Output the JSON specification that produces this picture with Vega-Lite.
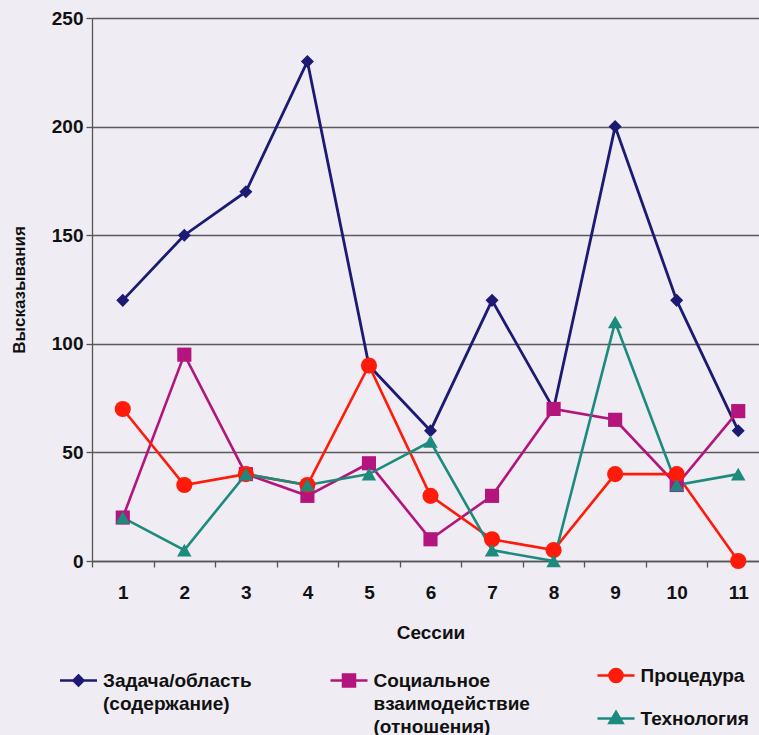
{
  "$schema": "https://vega.github.io/schema/vega-lite/v6.json",
  "autosize": {"type": "none"},
  "width": 677,
  "height": 543,
  "padding": {"left": 92, "top": 18, "right": 0, "bottom": 174},
  "background": "#efecf3",
  "config": {
    "view": {"stroke": null},
    "font": "Liberation Sans",
    "style": {"guide-label": {"lineHeight": 23}},
    "axis": {
      "labelFont": "Liberation Sans",
      "labelFontWeight": "bold",
      "labelFontSize": 19,
      "labelColor": "#111111",
      "titleFont": "Liberation Sans",
      "titleFontWeight": "bold",
      "titleFontSize": 19,
      "titleColor": "#111111",
      "domainColor": "#555555",
      "tickColor": "#555555",
      "domainWidth": 1.3,
      "tickWidth": 1.3
    },
    "legend": {
      "labelFont": "Liberation Sans",
      "labelFontWeight": "bold",
      "labelFontSize": 19,
      "labelColor": "#111111",
      "labelLimit": 0,
      "padding": 0,
      "orient": "none",
      "symbolSize": 100,
      "symbolStrokeWidth": 2.5,
      "labelOffset": 15
    }
  },
  "data": {
    "values": [
      {"session": 1, "s": "Задача/область (содержание)", "value": 120},
      {"session": 2, "s": "Задача/область (содержание)", "value": 150},
      {"session": 3, "s": "Задача/область (содержание)", "value": 170},
      {"session": 4, "s": "Задача/область (содержание)", "value": 230},
      {"session": 5, "s": "Задача/область (содержание)", "value": 90},
      {"session": 6, "s": "Задача/область (содержание)", "value": 60},
      {"session": 7, "s": "Задача/область (содержание)", "value": 120},
      {"session": 8, "s": "Задача/область (содержание)", "value": 70},
      {"session": 9, "s": "Задача/область (содержание)", "value": 200},
      {"session": 10, "s": "Задача/область (содержание)", "value": 120},
      {"session": 11, "s": "Задача/область (содержание)", "value": 60},
      {"session": 1, "s": "Социальное взаимодействие (отношения)", "value": 20},
      {"session": 2, "s": "Социальное взаимодействие (отношения)", "value": 95},
      {"session": 3, "s": "Социальное взаимодействие (отношения)", "value": 40},
      {"session": 4, "s": "Социальное взаимодействие (отношения)", "value": 30},
      {"session": 5, "s": "Социальное взаимодействие (отношения)", "value": 45},
      {"session": 6, "s": "Социальное взаимодействие (отношения)", "value": 10},
      {"session": 7, "s": "Социальное взаимодействие (отношения)", "value": 30},
      {"session": 8, "s": "Социальное взаимодействие (отношения)", "value": 70},
      {"session": 9, "s": "Социальное взаимодействие (отношения)", "value": 65},
      {"session": 10, "s": "Социальное взаимодействие (отношения)", "value": 35},
      {"session": 11, "s": "Социальное взаимодействие (отношения)", "value": 69},
      {"session": 1, "s": "Процедура", "value": 70},
      {"session": 2, "s": "Процедура", "value": 35},
      {"session": 3, "s": "Процедура", "value": 40},
      {"session": 4, "s": "Процедура", "value": 35},
      {"session": 5, "s": "Процедура", "value": 90},
      {"session": 6, "s": "Процедура", "value": 30},
      {"session": 7, "s": "Процедура", "value": 10},
      {"session": 8, "s": "Процедура", "value": 5},
      {"session": 9, "s": "Процедура", "value": 40},
      {"session": 10, "s": "Процедура", "value": 40},
      {"session": 11, "s": "Процедура", "value": 0},
      {"session": 1, "s": "Технология", "value": 20},
      {"session": 2, "s": "Технология", "value": 5},
      {"session": 3, "s": "Технология", "value": 40},
      {"session": 4, "s": "Технология", "value": 35},
      {"session": 5, "s": "Технология", "value": 40},
      {"session": 6, "s": "Технология", "value": 55},
      {"session": 7, "s": "Технология", "value": 5},
      {"session": 8, "s": "Технология", "value": 0},
      {"session": 9, "s": "Технология", "value": 110},
      {"session": 10, "s": "Технология", "value": 35},
      {"session": 11, "s": "Технология", "value": 40}
    ]
  },
  "encoding": {
    "x": {
      "field": "session",
      "type": "ordinal",
      "scale": {"type": "point", "padding": 0.5},
      "axis": {
        "labelAngle": 0,
        "tickOffset": -30.77,
        "labelOffset": 30.77,
        "tickSize": 6,
        "labelPadding": 16,
        "title": "Сессии",
        "titlePadding": 21,
        "domain": true
      }
    },
    "y": {
      "field": "value",
      "type": "quantitative",
      "scale": {"domain": [0, 250], "nice": false},
      "axis": {
        "values": [0, 50, 100, 150, 200, 250],
        "grid": true,
        "gridColor": "#5a5a5a",
        "gridWidth": 1.3,
        "gridOpacity": 1,
        "tickSize": 6,
        "labelPadding": 3,
        "title": "Высказывания",
        "titleFontSize": 17,
        "titlePadding": 23
      }
    }
  },
  "layer": [
    {
      "transform": [{"filter": "datum.s == 'Задача/область (содержание)'"}],
      "mark": {"type": "line", "strokeWidth": 2.8},
      "encoding": {
        "color": {
          "field": "s",
          "type": "nominal",
          "scale": {"range": ["#1c1a73"]},
          "legend": {
            "title": null,
            "legendX": -23,
            "legendY": 653,
            "symbolType": "M-3.7,0H3.7M0,-1L1,0L0,1L-1,0Z",
            "symbolFillColor": "#1c1a73",
            "symbolStrokeColor": "#1c1a73",
            "labelExpr": "['Задача/область', '(содержание)', '\u00a0']"
          }
        }
      }
    },
    {
      "transform": [{"filter": "datum.s == 'Социальное взаимодействие (отношения)'"}],
      "mark": {"type": "line", "strokeWidth": 2.6},
      "encoding": {
        "stroke": {
          "field": "s",
          "type": "nominal",
          "scale": {"range": ["#b3157c"]},
          "legend": {
            "title": null,
            "legendX": 247.5,
            "legendY": 653,
            "symbolType": "M-3.7,0H3.7M-1.2,-1.2H1.2V1.2H-1.2Z",
            "symbolFillColor": "#b3157c",
            "symbolStrokeColor": "#b3157c",
            "labelExpr": "['Социальное', 'взаимодействие', '(отношения)']"
          }
        }
      }
    },
    {
      "transform": [{"filter": "datum.s == 'Процедура'"}],
      "mark": {"type": "line", "strokeWidth": 2.6, "color": "#ff1a0a"},
      "encoding": {
        "opacity": {
          "field": "s",
          "type": "nominal",
          "scale": {"range": [1, 1]},
          "legend": {
            "title": null,
            "legendX": 514.5,
            "legendY": 648,
            "symbolType": "M-3.7,0H3.7M1.3,0A1.3,1.3,0,1,1,-1.3,0A1.3,1.3,0,1,1,1.3,0Z",
            "symbolFillColor": "#ff1a0a",
            "symbolStrokeColor": "#ff1a0a"
          }
        }
      }
    },
    {
      "transform": [{"filter": "datum.s == 'Технология'"}],
      "mark": {"type": "line", "color": "#1d8a7e"},
      "encoding": {
        "strokeWidth": {
          "field": "s",
          "type": "nominal",
          "scale": {"range": [2.6, 2.6]},
          "legend": {
            "title": null,
            "legendX": 514.5,
            "legendY": 691,
            "symbolType": "M-3.7,0H3.7M0,-1.3L1.3,0.9L-1.3,0.9Z",
            "symbolFillColor": "#1d8a7e",
            "symbolStrokeColor": "#1d8a7e"
          }
        }
      }
    },
    {
      "transform": [{"filter": "datum.s == 'Задача/область (содержание)'"}],
      "mark": {"type": "point", "filled": true, "opacity": 1, "shape": "diamond", "size": 170, "color": "#1c1a73"}
    },
    {
      "transform": [{"filter": "datum.s == 'Социальное взаимодействие (отношения)'"}],
      "mark": {"type": "point", "filled": true, "opacity": 1, "shape": "square", "size": 200, "color": "#b3157c"}
    },
    {
      "transform": [{"filter": "datum.s == 'Процедура'"}],
      "mark": {"type": "point", "filled": true, "opacity": 1, "shape": "circle", "size": 260, "color": "#ff1a0a"}
    },
    {
      "transform": [{"filter": "datum.s == 'Технология'"}],
      "mark": {"type": "point", "filled": true, "opacity": 1, "shape": "triangle-up", "size": 210, "color": "#1d8a7e"}
    }
  ]
}
